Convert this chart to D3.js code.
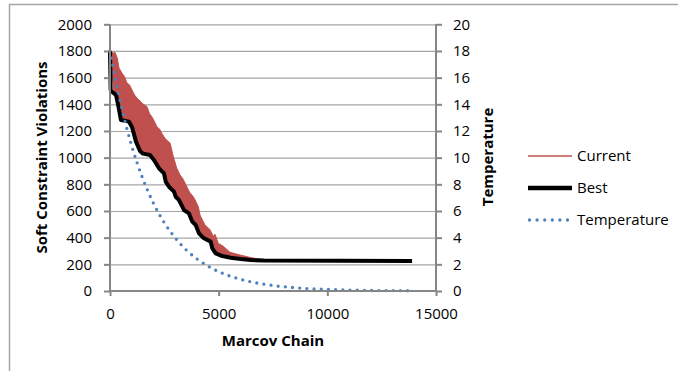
<!DOCTYPE html>
<html lang="en">
<head>
  <meta charset="UTF-8" />
  <script src="https://d3js.org/d3.v7.min.js"></script>
  <style>
    body { margin: 0; background: #fff; }
    text { font-family: "Open Sans", "Noto Sans", sans-serif; fill: #000; }
    .label { font-size: 15px; font-weight: bold; }
    .gridlines line { stroke: #a6a6a6; stroke-width: 1.2px; }
    .gridlines .domain { stroke: none; }
    .axis line { stroke: #868686; stroke-width: 2px; }
  </style>
</head>
<body>
  <svg id="chart" width="678" height="371"></svg>
  <script>
    // values
    const chainTicks = [0, 5000, 10000, 15000];
    const violationTicks = [0, 200, 400, 600, 800, 1000, 1200, 1400, 1600, 1800, 2000];
    const tempTicks = [0, 2, 4, 6, 8, 10, 12, 14, 16, 18, 20];

    const currentChain = [0, 184, 230, 336, 414, 552, 660, 782, 900, 1012, 1130, 1242, 1360, 1472, 1590, 1702, 1820, 1932, 2050, 2162, 2280, 2393, 2531, 2650, 2761, 2912, 3069, 3221, 3340, 3451, 3570, 3681, 3800, 3911, 4063, 4141, 4260, 4371, 4601, 4753, 4830, 4909, 4983, 5213, 5521, 5981, 6441, 6902, 7224, 7820];
    const currentHigh = [1800, 1783, 1790, 1746, 1672, 1634, 1610, 1559, 1545, 1507, 1470, 1446, 1430, 1408, 1395, 1382, 1330, 1305, 1270, 1230, 1215, 1180, 1145, 1125, 1110, 1008, 922, 870, 845, 810, 770, 735, 715, 685, 632, 570, 530, 495, 460, 410, 425, 390, 357, 335, 290, 270, 252, 238, 232, 228];
    const currentLow = [1800, 1490, 1480, 1420, 1330, 1280, 1276, 1272, 1260, 1230, 1160, 1100, 1060, 1035, 1030, 1025, 1015, 1000, 970, 945, 920, 895, 840, 800, 775, 750, 700, 675, 640, 605, 590, 575, 530, 497, 445, 420, 405, 392, 372, 315, 298, 280, 275, 260, 250, 240, 232, 229, 228, 226];

    const bestChain = [0, 30, 50, 276, 370, 506, 874, 1012, 1196, 1380, 1520, 1840, 2024, 2254, 2485, 2563, 2715, 2945, 3023, 3175, 3327, 3405, 3635, 3787, 3943, 4095, 4325, 4633, 4707, 4863, 5167, 5553, 6014, 6474, 7086, 13900];
    const bestValue = [1800, 1510, 1500, 1470, 1400, 1282, 1270, 1230, 1120, 1050, 1030, 1020, 982, 920, 882, 820, 782, 745, 707, 682, 632, 607, 582, 520, 495, 432, 395, 370, 320, 282, 262, 250, 240, 232, 228, 225];

    const tempChain = [0, 500, 1000, 1500, 2000, 2500, 3000, 3500, 4000, 4500, 5000, 5500, 6000, 6500, 7000, 7500, 8000, 8500, 9000, 9500, 10000, 10500, 11000, 11500, 12000, 12500, 13000, 13500, 13750];
    const tempValue = [18.0, 14.0, 10.88, 8.46, 6.58, 5.12, 3.98, 3.09, 2.41, 1.87, 1.45, 1.13, 0.88, 0.68, 0.53, 0.41, 0.32, 0.25, 0.19, 0.15, 0.12, 0.09, 0.07, 0.06, 0.04, 0.03, 0.03, 0.02, 0.02];

    const seriesNames = ["Current", "Best", "Temperature"];

    const svg = d3.select("#chart");
    const plot = { left: 110, right: 436, top: 24.3, bottom: 291 };

    const x = d3.scaleLinear().domain([0, 15000]).range([plot.left, plot.right]);
    const y = d3.scaleLinear().domain([0, 2000]).range([plot.bottom, plot.top]);
    const yT = d3.scaleLinear().domain([0, 20]).range([plot.bottom, plot.top]);

    // outer chart frame
    svg.append("rect")
      .attr("x", 9.5).attr("y", 4.5)
      .attr("width", 700).attr("height", 400)
      .attr("fill", "none").attr("stroke", "#a6a6a6").attr("stroke-width", 1.5);

    svg.append("g")
      .attr("class", "gridlines")
      .attr("transform", `translate(${plot.left},0)`)
      .call(d3.axisLeft(y).tickValues(violationTicks).tickSize(-(plot.right - plot.left)).tickFormat(""));

    // Current: band between low and high of the noisy trace
    const currentData = currentChain.map((c, i) => ({ c: c, lo: currentLow[i], hi: currentHigh[i] }));
    svg.append("path")
      .datum(currentData)
      .attr("fill", "#c0504d")
      .attr("stroke", "#c0504d")
      .attr("stroke-width", 1)
      .attr("d", d3.area().x(d => x(d.c)).y0(d => y(d.lo)).y1(d => y(d.hi)));

    const bestData = bestChain.map((c, i) => ({ c: c, v: bestValue[i] }));
    svg.append("path")
      .datum(bestData)
      .attr("fill", "none")
      .attr("stroke", "#000")
      .attr("stroke-width", 4)
      .attr("stroke-linejoin", "round")
      .attr("d", d3.line().x(d => x(d.c)).y(d => y(d.v)));

    const tempData = tempChain.map((c, i) => ({ c: c, v: tempValue[i] }));
    svg.append("path")
      .datum(tempData)
      .attr("fill", "none")
      .attr("stroke", "#4f81bd")
      .attr("stroke-width", 3.3)
      .attr("stroke-linecap", "round")
      .attr("stroke-dasharray", "0 7.2")
      .attr("d", d3.line().curve(d3.curveMonotoneX).x(d => x(d.c)).y(d => yT(d.v)));

    // axes
    const fmt = d3.format("d");
    const leftAxis = svg.append("g")
      .attr("class", "axis")
      .attr("transform", `translate(${plot.left},0)`)
      .call(d3.axisLeft(y).tickValues(violationTicks).tickFormat(fmt).tickSize(6).tickPadding(12).tickSizeOuter(0));
    const rightAxis = svg.append("g")
      .attr("class", "axis")
      .attr("transform", `translate(${plot.right},0)`)
      .call(d3.axisRight(yT).tickValues(tempTicks).tickFormat(fmt).tickSize(6).tickPadding(11).tickSizeOuter(0));
    const bottomAxis = svg.append("g")
      .attr("class", "axis")
      .attr("transform", `translate(0,${plot.bottom})`)
      .call(d3.axisBottom(x).tickValues(chainTicks).tickFormat(fmt).tickSize(5).tickPadding(12).tickSizeOuter(0));
    [leftAxis, rightAxis, bottomAxis].forEach(g => {
      g.select(".domain").remove();
      g.attr("font-size", null).attr("font-family", null);
      g.selectAll("text").style("font-size", "15px").style("fill", "#000");
    });
    svg.append("line")
      .attr("x1", plot.left).attr("x2", plot.left).attr("y1", plot.top).attr("y2", plot.bottom)
      .attr("stroke", "#868686").attr("stroke-width", 2);
    svg.append("line")
      .attr("x1", plot.right).attr("x2", plot.right).attr("y1", plot.top).attr("y2", plot.bottom)
      .attr("stroke", "#868686").attr("stroke-width", 2);
    svg.append("line")
      .attr("x1", plot.left).attr("x2", plot.right).attr("y1", plot.bottom).attr("y2", plot.bottom)
      .attr("stroke", "#868686").attr("stroke-width", 2);

    svg.append("text")
      .attr("class", "label")
      .attr("text-anchor", "middle")
      .attr("x", 273).attr("y", 346)
      .text("Marcov Chain");
    svg.append("text")
      .attr("class", "label")
      .attr("text-anchor", "middle")
      .attr("transform", "translate(47,157.5) rotate(-90)")
      .text("Soft Constraint Violations");
    svg.append("text")
      .attr("class", "label")
      .attr("text-anchor", "middle")
      .attr("transform", "translate(493,157) rotate(-90)")
      .text("Temperature");

    // legend
    const legend = svg.append("g").attr("transform", "translate(528,156)");
    const legendStyle = [
      { stroke: "#c0504d", width: 1.3, dash: null },
      { stroke: "#000", width: 4.5, dash: null },
      { stroke: "#4f81bd", width: 3.3, dash: "0 7.6" }
    ];
    seriesNames.forEach((name, i) => {
      const s = legendStyle[i];
      legend.append("line")
        .attr("x1", i == 2 ? 1.5 : 0).attr("x2", 44)
        .attr("y1", i * 32).attr("y2", i * 32)
        .attr("stroke", s.stroke)
        .attr("stroke-width", s.width)
        .attr("stroke-linecap", s.dash ? "round" : "butt")
        .attr("stroke-dasharray", s.dash);
      legend.append("text")
        .attr("x", 49).attr("y", i * 32)
        .attr("dy", "0.35em")
        .style("font-size", "15px")
        .text(name);
    });
  </script>
</body>
</html>
